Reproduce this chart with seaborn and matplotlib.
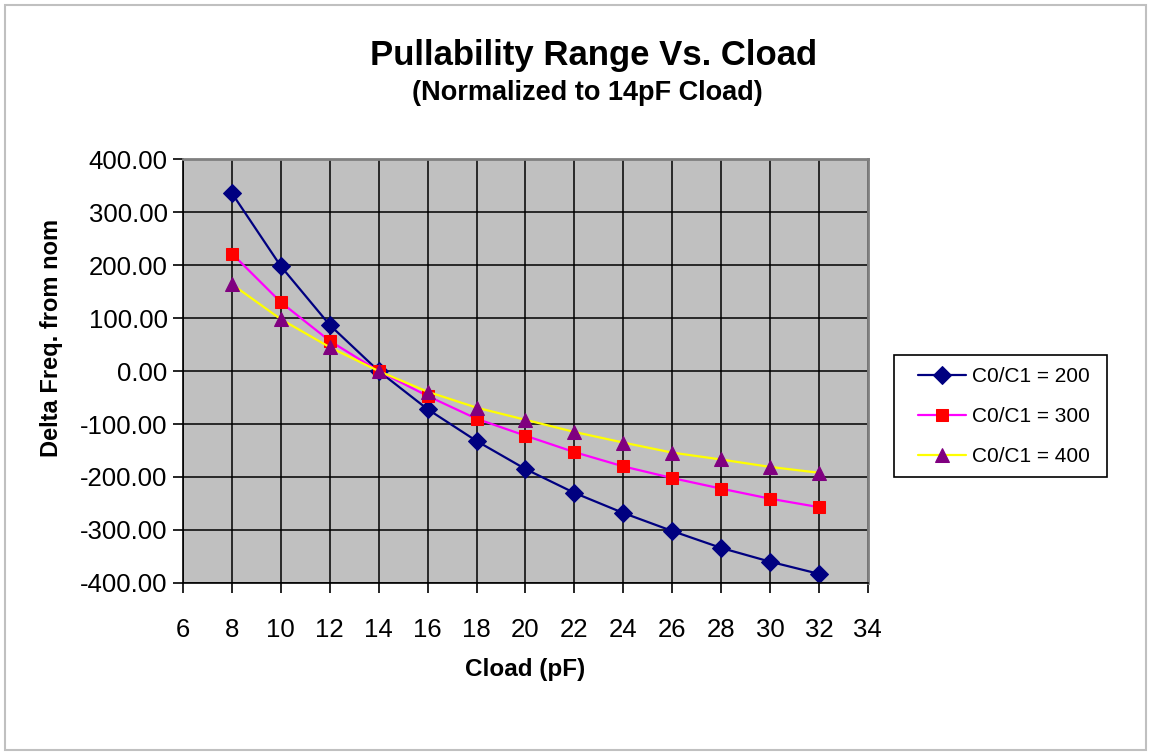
import numpy as np
import pandas as pd
import seaborn as sns
import matplotlib.pyplot as plt
from matplotlib.patches import Rectangle

# Values
cload = [8, 10, 12, 14, 16, 18, 20, 22, 24, 26, 28, 30, 32]
r200 = [336, 198, 87, 0, -72, -132, -185, -230, -268, -302, -334, -360, -383]
r300 = [222, 130, 57, 0, -47, -90, -122, -153, -180, -202, -222, -241, -257]
r400 = [164, 98, 45, 0, -39, -69, -92, -115, -135, -154, -167, -181, -192]

series = [
    ("C0/C1 = 200", r200, "#000080", "D", "#000080", 9),
    ("C0/C1 = 300", r300, "#FF00FF", "s", "#FF0000", 8.5),
    ("C0/C1 = 400", r400, "#FFFF00", "^", "#800080", 9.5),
]

sns.set_style("white")
plt.rcParams['font.family'] = ['Liberation Sans', 'DejaVu Sans']
plt.rcParams['text.color'] = 'black'
plt.rcParams['axes.labelcolor'] = 'black'

fig = plt.figure(figsize=(11.51, 7.55), dpi=100)
ax = fig.add_axes([0.159, 0.228, 0.595, 0.561])
ax.set_facecolor("#C0C0C0")

for name, vals, lc, mk, mc, ms in series:
    df = pd.DataFrame({"x": cload, "y": vals})
    sns.lineplot(data=df, x="x", y="y", ax=ax, color=lc, lw=1.6,
                 marker=mk, markersize=ms, markerfacecolor=mc,
                 markeredgecolor=mc, label=name)

ax.set_xlim(6, 34)
ax.set_ylim(-400, 400)
ax.set_xticks(np.arange(6, 35, 2))
ax.set_yticks(np.arange(-400, 401, 100))
ax.set_yticklabels([f"{v:.2f}" for v in np.arange(-400, 401, 100)])
ax.grid(True, color="black", lw=1.1)
ax.set_axisbelow(True)
ax.tick_params(axis="both", direction="out", length=7, width=1.2,
               labelsize=18.5, colors="black", left=True, bottom=True)
ax.tick_params(axis="x", pad=18)
ax.tick_params(axis="y", pad=4)
for s in ["top", "right"]:
    ax.spines[s].set_color("#808080")
    ax.spines[s].set_linewidth(2)
for s in ["left", "bottom"]:
    ax.spines[s].set_color("black")
    ax.spines[s].set_linewidth(1.2)

ax.set_xlabel("Cload (pF)", fontsize=17.5, fontweight="bold", labelpad=12)
ax.set_ylabel("Delta Freq. from nom", fontsize=17, fontweight="bold")
ax.yaxis.set_label_coords(-0.175, 0.578)

fig.text(0.516, 0.927, "Pullability Range Vs. Cload", ha="center", va="center",
         fontsize=25, fontweight="bold")
fig.text(0.510, 0.877, "(Normalized to 14pF Cload)", ha="center", va="center",
         fontsize=19.5, fontweight="bold")

# legend frame drawn separately so its padding matches the reference
ax.add_patch(Rectangle((1.038, 0.25), 0.311, 0.288, transform=ax.transAxes,
                       fill=True, facecolor="white", edgecolor="black", lw=1.2,
                       clip_on=False, zorder=4))
leg = ax.legend(loc="center left", bbox_to_anchor=(1.055, 0.392), fontsize=15,
                frameon=False, borderaxespad=0, handlelength=2.3,
                handletextpad=0.3, borderpad=0.6, labelspacing=1.0)
leg.set_zorder(5)

fig.patches.append(Rectangle((0.004, 0.006), 0.992, 0.988, transform=fig.transFigure,
                             fill=False, edgecolor="#C0C0C0", lw=1.5))

fig.savefig("out.png", dpi=100, facecolor="white")
